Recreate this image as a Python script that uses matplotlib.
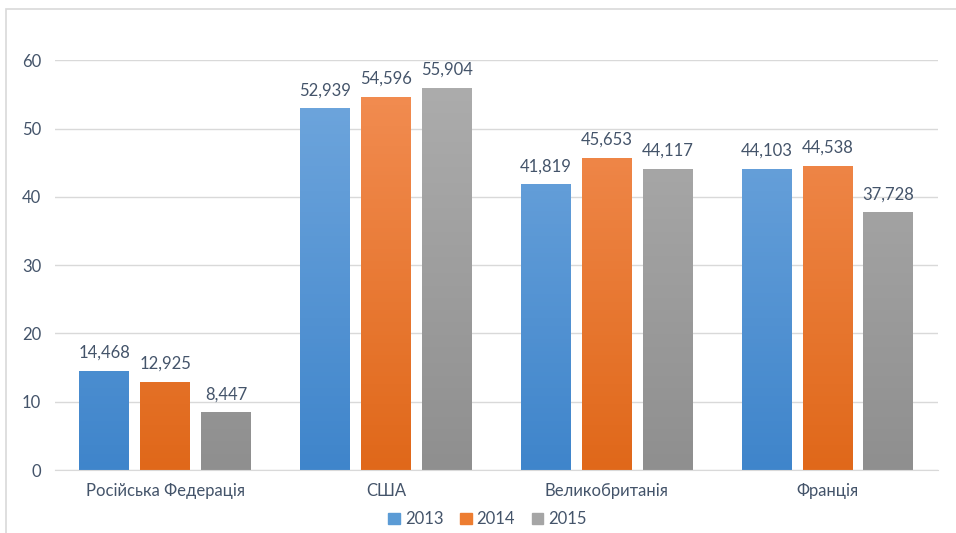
import matplotlib.pyplot as plt
import numpy as np
from matplotlib.patches import Rectangle
from matplotlib.colors import LinearSegmentedColormap

categories = ['Російська Федерація', 'США', 'Великобританія', 'Франція']
years = ['2013', '2014', '2015']
v2013 = [14.468, 52.939, 41.819, 44.103]
v2014 = [12.925, 54.596, 45.653, 44.538]
v2015 = [8.447, 55.904, 44.117, 37.728]
yticks = [0, 10, 20, 30, 40, 50, 60]

# gradient top -> bottom
grads = [('#72a8de', '#3f85cb'), ('#f38f55', '#e0681a'), ('#aeaeae', '#8f8f8f')]
legend_cols = ['#5b9bd5', '#ed7d31', '#a5a5a5']
txt = '#44546a'

plt.rcParams['font.family'] = ['Lato', 'DejaVu Sans']

fig = plt.figure(figsize=(9.56, 5.33), dpi=100)
ax = fig.add_axes([0.0575, 0.118, 0.9235, 0.769])

# chart frame
fig.patches.append(Rectangle((6 / 956, -0.1), 1.2, 1 - 9 / 533 + 0.1, transform=fig.transFigure,
                             fill=False, edgecolor='#d9d9d9', lw=1.2))

x = np.arange(len(categories))
w = 0.226
step = 0.276
for i, vals in enumerate([v2013, v2014, v2015]):
    top, bot = grads[i]
    cmap = LinearSegmentedColormap.from_list('g%d' % i, [bot, top])
    for xi, v in zip(x, vals):
        x0 = xi + (i - 1) * step - w / 2
        bar = Rectangle((x0, 0), w, v, facecolor='none', edgecolor='none')
        ax.add_patch(bar)
        grad = np.linspace(0, 1, 100).reshape(-1, 1)
        im = ax.imshow(grad, cmap=cmap, origin='lower', aspect='auto',
                       extent=[x0, x0 + w, 0, 60], zorder=2)
        im.set_clip_path(bar)
        ax.text(xi + (i - 1) * step, v + 1.5, ('%.3f' % v).replace('.', ','),
                ha='center', va='bottom', fontsize=12, color=txt)

ax.set_xlim(-0.5, 3.5)
ax.set_ylim(0, 60)
ax.set_yticks(yticks)
ax.set_xticks(x)
ax.set_xticklabels(categories)
ax.tick_params(length=0, labelsize=12, labelcolor=txt)
ax.tick_params(axis='y', pad=10)
ax.tick_params(axis='x', pad=9)
ax.grid(axis='y', color='#d9d9d9', lw=1)
ax.set_axisbelow(True)
for s in ['top', 'right', 'left']:
    ax.spines[s].set_visible(False)
ax.spines['bottom'].set_color('#d9d9d9')

handles = [Rectangle((0, 0), 1, 1, color=c) for c in legend_cols]
ax.legend(handles, years, loc='center', bbox_to_anchor=(0.49, -0.12), ncol=3, frameon=False,
          fontsize=12, labelcolor=txt, handlelength=0.7, handleheight=0.7,
          handletextpad=0.3, columnspacing=1.0, borderpad=0)

fig.savefig('out.png', dpi=100)
